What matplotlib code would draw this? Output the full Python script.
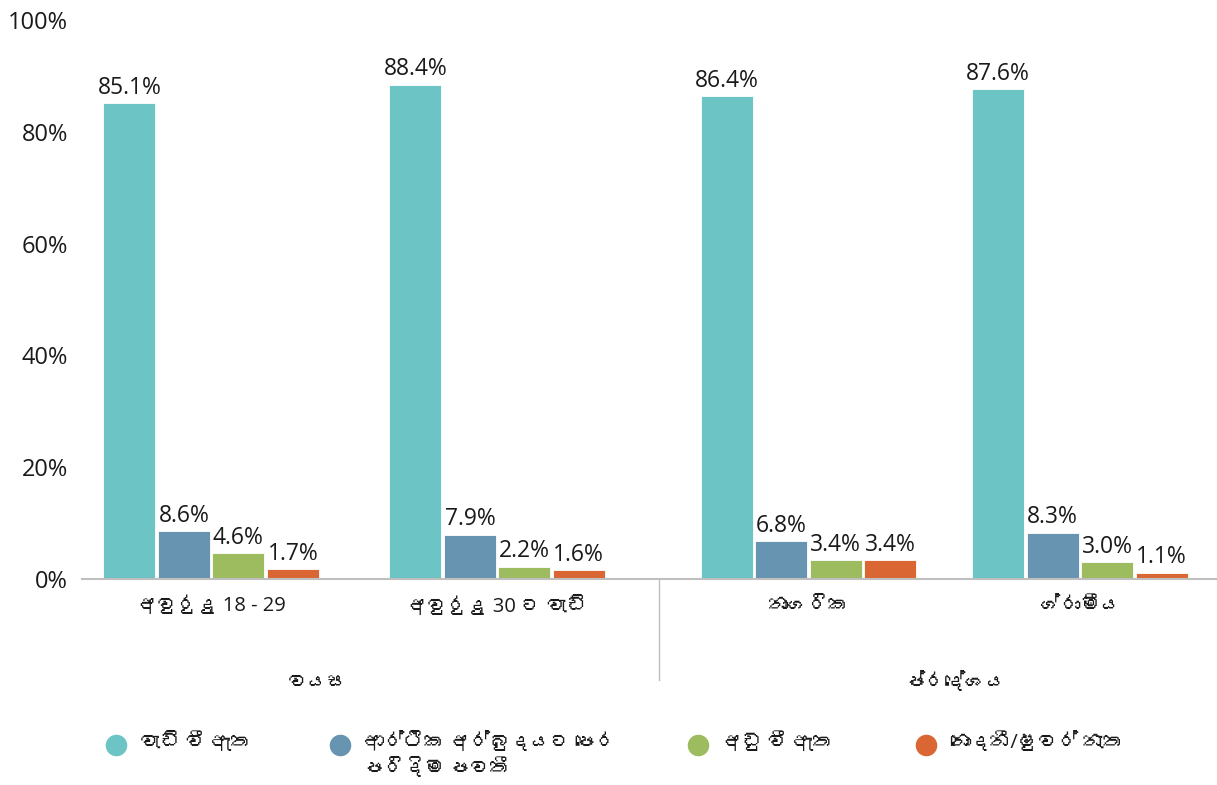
import matplotlib
matplotlib.use("Agg")
import matplotlib.pyplot as plt
from matplotlib import font_manager
from matplotlib.ft2font import FT2Font
from matplotlib.lines import Line2D
import numpy as np

# Data
categories = ["අවුරුදු 18 - 29", "අවුරුදු 30 ට වැඩි", "නාගරික", "ග්‍රාමීය"]
group_labels = ["වයස", "ප්‍රදේශය"]
series_names = ["වැඩි වී ඇත", "ආර්ථික අර්බුදයට පෙර\nපරිදිම පවතී", "අඩු වී ඇත", "නොදනී/ෂුවර් නැත"]
increased = [85.1, 88.4, 86.4, 87.6]
same_as_before = [8.6, 7.9, 6.8, 8.3]
decreased = [4.6, 2.2, 3.4, 3.0]
not_sure = [1.7, 1.6, 3.4, 1.1]
y_ticks = [0, 20, 40, 60, 80, 100]

colors = ["#6CC4C5", "#6794B1", "#9DBB5F", "#DA6733"]
TEXT = "#1a1a1a"
W, H = 1217, 785


def find_sinhala_font():
    """Look for an installed font that has Sinhala glyphs."""
    for f in font_manager.fontManager.ttflist:
        try:
            if 0x0D85 in FT2Font(f.fname).get_charmap():
                return f.name
        except Exception:
            pass
    return None


def si(s):
    # no shaping engine here, so the zero width joiner would show as a box
    return s.replace("\u200d", "")


sinhala = find_sinhala_font()
families = ["Open Sans", "DejaVu Sans"]
if sinhala:
    families = ["Open Sans", sinhala, "DejaVu Sans"]
plt.rcParams["font.family"] = families

fig = plt.figure(figsize=(W / 100, H / 100), dpi=100)
ax = fig.add_axes([82 / W, 1 - 579 / H, 1 - 82 / W, 559 / H])

# group centres (category units) and bar layout
x = np.array([-0.045, 0.963, 2.06, 3.017])
width = 0.183
step = 0.192
series = [increased, same_as_before, decreased, not_sure]

for i, vals in enumerate(series):
    offs = (i - 1.5) * step
    bars = ax.bar(x + offs, vals, width, color=colors[i], edgecolor="white", linewidth=0.6)
    for b, v in zip(bars, vals):
        ax.text(b.get_x() + b.get_width() / 2, v + 0.6, f"{v:.1f}%",
                ha="center", va="bottom", fontsize=16.5, color=TEXT)

ax.set_xlim(-0.5, 3.5)
ax.set_ylim(0, 100)
ax.set_yticks(y_ticks)
ax.set_yticklabels([f"{t}%" for t in y_ticks], fontsize=17, color=TEXT)
ax.tick_params(axis="y", length=0, pad=10)
ax.set_xticks(x)
ax.set_xticklabels([si(c) for c in categories], fontsize=14.5, color=TEXT)
ax.tick_params(axis="x", length=0, pad=12)

for s in ["top", "right", "left"]:
    ax.spines[s].set_visible(False)
ax.spines["bottom"].set_color("#bfbfbf")
ax.spines["bottom"].set_linewidth(1.5)

# divider between the two groups and group titles
ax.plot([1.533, 1.533], [0, -18], color="#bfbfbf", linewidth=1, clip_on=False)
ax.text(0.33, -18.6, si(group_labels[0]), ha="center", va="center", fontsize=14.5, color=TEXT)
ax.text(2.577, -18.6, si(group_labels[1]), ha="center", va="center", fontsize=14.5, color=TEXT)

# legend, placed item by item like the original
legend_x = [116, 340, 698, 926]
legend_y = 745
for lx, c, name in zip(legend_x, colors, series_names):
    fig.add_artist(Line2D([lx / W], [1 - legend_y / H], marker="o", markersize=14.5,
                          linestyle="", markerfacecolor=c, markeredgecolor=c,
                          transform=fig.transFigure))
    fig.text((lx + 24) / W, 1 - (legend_y - 13) / H, si(name), ha="left", va="top",
             fontsize=14.5, color=TEXT, linespacing=1.3)

fig.savefig("out.png", dpi=100)
